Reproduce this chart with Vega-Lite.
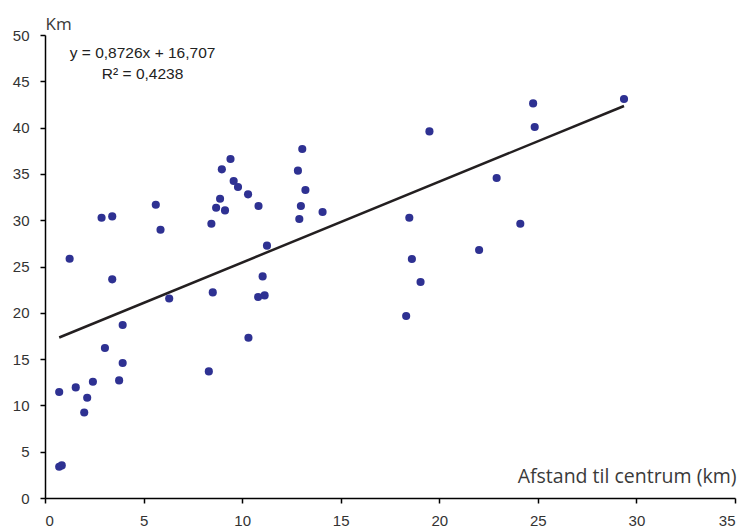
{
  "$schema": "https://vega.github.io/schema/vega-lite/v6.json",
  "width": 690,
  "height": 463,
  "autosize": "none",
  "padding": {"left": 45, "top": 35, "right": 12, "bottom": 30},
  "background": "white",
  "config": {
    "view": {"stroke": null},
    "axis": {"grid": false, "domainColor": "#000000", "tickColor": "#000000", "domainWidth": 1.5, "tickWidth": 1.5, "tickSize": 5, "labelFont": "Liberation Sans", "labelFontSize": 15, "labelColor": "#333333", "titleFont": "Open Sans", "titleFontWeight": "normal", "titleColor": "#3a3a3a"}
  },
  "datasets": {
    "pts": [
      {"x": 0.72, "y": 3.38}, {"x": 0.85, "y": 3.52}, {"x": 0.72, "y": 11.45}, {"x": 1.25, "y": 25.84},
      {"x": 1.56, "y": 11.94}, {"x": 1.99, "y": 9.24}, {"x": 2.14, "y": 10.83}, {"x": 2.43, "y": 12.56},
      {"x": 2.87, "y": 30.27}, {"x": 3.04, "y": 16.2}, {"x": 3.41, "y": 30.41}, {"x": 3.41, "y": 23.61},
      {"x": 3.76, "y": 12.7}, {"x": 3.94, "y": 18.68}, {"x": 3.94, "y": 14.58}, {"x": 5.62, "y": 31.67},
      {"x": 5.86, "y": 28.97}, {"x": 6.3, "y": 21.55}, {"x": 8.31, "y": 13.67}, {"x": 8.44, "y": 29.62},
      {"x": 8.51, "y": 22.2}, {"x": 8.68, "y": 31.35}, {"x": 8.88, "y": 32.32}, {"x": 8.97, "y": 35.49},
      {"x": 9.13, "y": 31.06}, {"x": 9.41, "y": 36.61}, {"x": 9.57, "y": 34.23}, {"x": 9.79, "y": 33.59},
      {"x": 10.3, "y": 32.79}, {"x": 10.32, "y": 17.31}, {"x": 10.83, "y": 31.53}, {"x": 10.81, "y": 21.71},
      {"x": 11.04, "y": 23.93}, {"x": 11.14, "y": 21.88}, {"x": 11.26, "y": 27.25}, {"x": 12.83, "y": 35.35},
      {"x": 12.9, "y": 30.13}, {"x": 12.98, "y": 31.53}, {"x": 13.05, "y": 37.69}, {"x": 13.21, "y": 33.26},
      {"x": 14.08, "y": 30.89}, {"x": 18.32, "y": 19.65}, {"x": 18.48, "y": 30.27}, {"x": 18.61, "y": 25.81},
      {"x": 19.05, "y": 23.33}, {"x": 19.5, "y": 39.59}, {"x": 22.02, "y": 26.78}, {"x": 22.91, "y": 34.56},
      {"x": 24.11, "y": 29.62}, {"x": 24.76, "y": 42.61}, {"x": 24.84, "y": 40.06}, {"x": 29.37, "y": 43.09}
    ],
    "trend": [
      {"x": 0.72, "y": 17.335},
      {"x": 29.37, "y": 42.336}
    ],
    "notes": [
      {"x": 4.95, "y": 48.1, "label": "y = 0,8726x + 16,707"},
      {"x": 4.95, "y": 45.8, "label": "R² = 0,4238"}
    ]
  },
  "encoding": {
    "x": {"field": "x", "type": "quantitative", "scale": {"domain": [0, 35], "nice": false},
      "axis": {"values": [0, 5, 10, 15, 20, 25, 30, 35], "labelPadding": 10, "title": "Afstand til centrum (km)", "titleFontSize": 19.5, "titleX": 691, "titleY": -16, "titleAlign": "right", "titleBaseline": "alphabetic", "titleAnchor": null}},
    "y": {"field": "y", "type": "quantitative", "scale": {"domain": [0, 50], "nice": false},
      "axis": {"values": [0, 5, 10, 15, 20, 25, 30, 35, 40, 45, 50], "labelPadding": 11, "title": "Km", "titleFontSize": 17, "titleAngle": 0, "titleX": 0, "titleY": -6, "titleAlign": "left", "titleBaseline": "alphabetic", "titleAnchor": null}}
  },
  "layer": [
    {"data": {"name": "trend"}, "mark": {"type": "line", "color": "#231f20", "strokeWidth": 2.5}},
    {"data": {"name": "pts"}, "mark": {"type": "circle", "size": 66, "color": "#2e3192", "opacity": 1}},
    {"data": {"name": "notes"}, "mark": {"type": "text", "font": "Liberation Sans", "fontSize": 15.5, "color": "#222222", "align": "center", "baseline": "middle"}, "encoding": {"text": {"field": "label"}}}
  ]
}
